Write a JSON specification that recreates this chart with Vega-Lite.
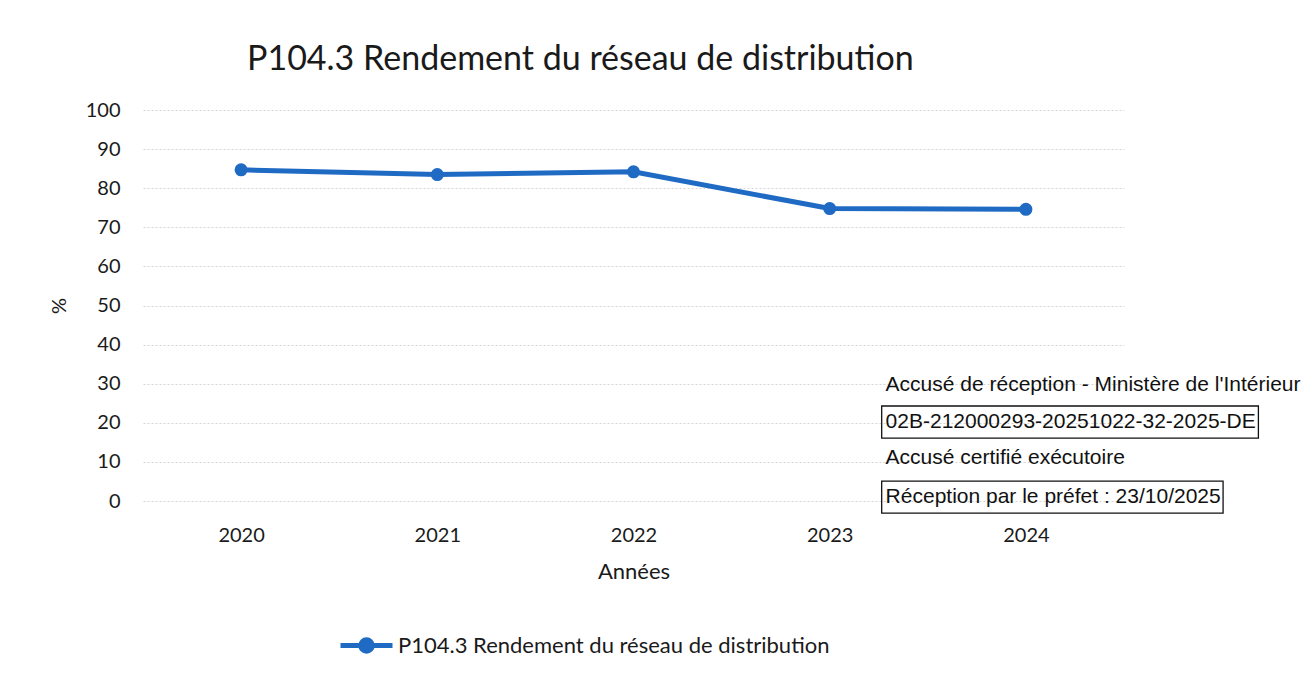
{
  "$schema": "https://vega.github.io/schema/vega-lite/v6.json",
  "width": 981,
  "height": 391,
  "autosize": "none",
  "padding": {"left": 143, "top": 110, "right": 182, "bottom": 176},
  "background": "white",
  "config": {"font": "Lato", "view": {"stroke": null}},
  "title": {
    "text": "P104.3 Rendement du réseau de distribution",
    "anchor": "start",
    "frame": "group",
    "dx": 104,
    "offset": 23,
    "fontSize": 34,
    "fontWeight": "normal",
    "color": "#1a1a1a"
  },
  "layer": [
    {
      "data": {
        "values": [
          {"annee": "2020", "rendement": 84.7, "serie": "P104.3 Rendement du réseau de distribution"},
          {"annee": "2021", "rendement": 83.5, "serie": "P104.3 Rendement du réseau de distribution"},
          {"annee": "2022", "rendement": 84.2, "serie": "P104.3 Rendement du réseau de distribution"},
          {"annee": "2023", "rendement": 74.8, "serie": "P104.3 Rendement du réseau de distribution"},
          {"annee": "2024", "rendement": 74.6, "serie": "P104.3 Rendement du réseau de distribution"}
        ]
      },
      "encoding": {
        "x": {
          "field": "annee",
          "type": "ordinal",
          "scale": {"type": "point", "padding": 0.5},
          "axis": {
            "title": "Années",
            "labelAngle": 0,
            "domain": false,
            "ticks": false,
            "labelPadding": 24,
            "labelFontSize": 20,
            "labelColor": "#1a1a1a",
            "titleFontSize": 22,
            "titleFontWeight": "normal",
            "titleColor": "#1a1a1a",
            "titlePadding": 16
          }
        },
        "y": {
          "field": "rendement",
          "type": "quantitative",
          "scale": {"domain": [0, 100], "nice": false},
          "axis": {
            "title": "%",
            "values": [0, 10, 20, 30, 40, 50, 60, 70, 80, 90, 100],
            "domain": false,
            "ticks": false,
            "labelPadding": 23,
            "labelFontSize": 20,
            "labelColor": "#1a1a1a",
            "titleFontSize": 20,
            "titleFontWeight": "normal",
            "titleColor": "#1a1a1a",
            "titlePadding": 16,
            "grid": true,
            "gridColor": "#d4d4d4",
            "gridDash": [2, 2]
          }
        },
        "color": {
          "field": "serie",
          "type": "nominal",
          "scale": {"range": ["#1f6bc4"]},
          "legend": {
            "title": null,
            "orient": "none",
            "legendX": 195,
            "legendY": 507,
            "symbolType": "M-1,0H1M0.22,0A0.22,0.22,0,1,1,-0.22,0A0.22,0.22,0,1,1,0.22,0Z",
            "symbolSize": 2704,
            "symbolStrokeWidth": 5,
            "symbolFillColor": "#1f6bc4",
            "symbolStrokeColor": "#1f6bc4",
            "labelFontSize": 22,
            "labelLimit": 800,
            "labelColor": "#1a1a1a",
            "labelOffset": 3
          }
        }
      },
      "layer": [
        {"mark": {"type": "line", "strokeWidth": 5}},
        {"mark": {"type": "point", "filled": true, "size": 170, "opacity": 1}}
      ]
    },
    {
      "layer": [
        {
          "data": {
            "values": [
              {"texte": "Accusé de réception - Ministère de l'Intérieur", "niveau": 29.7},
              {"texte": "02B-212000293-20251022-32-2025-DE", "niveau": 20.2},
              {"texte": "Accusé certifié exécutoire", "niveau": 11.0},
              {"texte": "Réception par le préfet : 23/10/2025", "niveau": 1.0}
            ]
          },
          "mark": {"type": "text", "align": "left", "baseline": "middle", "font": "Liberation Sans", "fontSize": 21, "color": "#111111"},
          "encoding": {
            "x": {"datum": 75.7, "type": "quantitative", "scale": {"domain": [0, 100]}, "axis": null},
            "y": {"field": "niveau", "type": "quantitative", "scale": {"domain": [0, 100], "nice": false}, "axis": null},
            "text": {"field": "texte"}
          }
        },
        {
          "data": {"values": [{}]},
          "mark": {"type": "rect", "filled": false, "stroke": "#111111", "strokeWidth": 1.3},
          "encoding": {
            "x": {"datum": 75.3, "type": "quantitative"},
            "x2": {"datum": 113.7},
            "y": {"datum": 24.3, "type": "quantitative"},
            "y2": {"datum": 16.1}
          }
        },
        {
          "data": {"values": [{}]},
          "mark": {"type": "rect", "filled": false, "stroke": "#111111", "strokeWidth": 1.3},
          "encoding": {
            "x": {"datum": 75.3, "type": "quantitative"},
            "x2": {"datum": 110.1},
            "y": {"datum": 5.1, "type": "quantitative"},
            "y2": {"datum": -3.1}
          }
        }
      ]
    }
  ],
  "resolve": {"scale": {"x": "independent", "y": "independent"}}
}
